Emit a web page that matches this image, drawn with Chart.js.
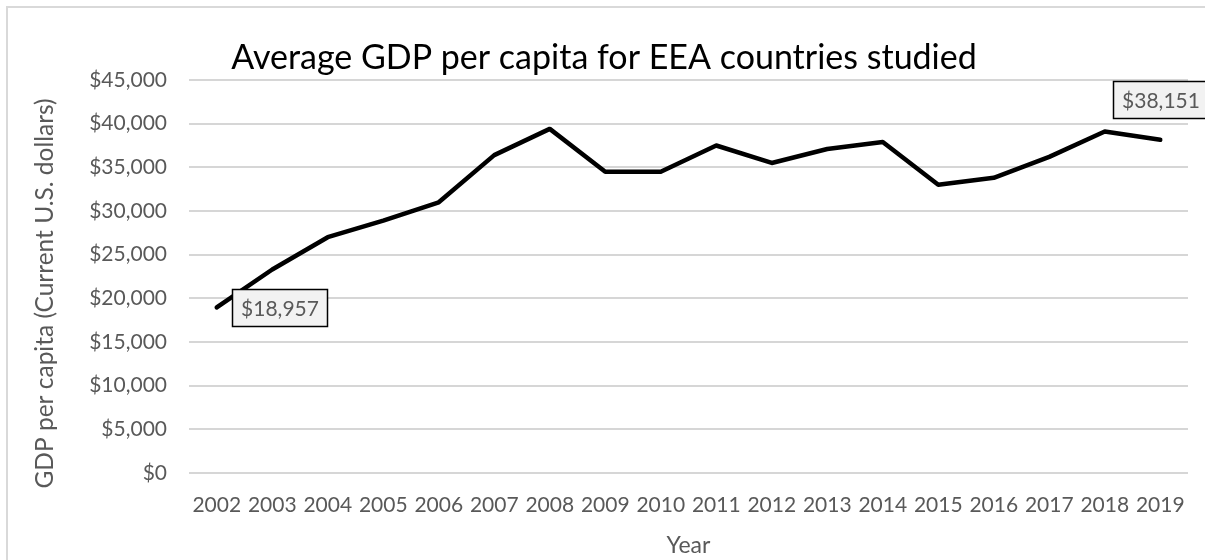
<!DOCTYPE html>
<html><head><meta charset="utf-8">
<script src="https://cdn.jsdelivr.net/npm/chart.js@4/dist/chart.umd.min.js"></script>
<style>
html,body{margin:0;padding:0;background:#fff;width:1205px;height:560px;overflow:hidden}
#frame{position:absolute;left:6px;top:6px;width:1400px;height:700px;border:2px solid #d9d9d9;box-sizing:border-box}
#wrap{position:absolute;left:0;top:0;width:1205px;height:560px}
</style></head><body>
<div id="frame"></div>
<div id="wrap"><canvas id="c" width="1205" height="560"></canvas></div>
<script>
// ---- data ----
const years = ['2002','2003','2004','2005','2006','2007','2008','2009','2010','2011','2012','2013','2014','2015','2016','2017','2018','2019'];
const gdpPerCapita = [18957, 23300, 27000, 28900, 31000, 36400, 39400, 34500, 34500, 37500, 35500, 37100, 37900, 33000, 33800, 36200, 39100, 38151];
const yMin = 0, yMax = 45000, yStep = 5000;
const labelledYears = ['2002', '2019'];
const chartTitle = 'Average GDP per capita for EEA countries studied';
const yAxisTitle = 'GDP per capita (Current U.S. dollars)';
const xAxisTitle = 'Year';

// ---- styling ----
const FONT = 'Lato, "Open Sans", sans-serif';
const GREY = '#595959';
const money = v => '$' + Math.round(v).toLocaleString('en-US');

const labelPlugin = {
  id: 'pointLabels',
  afterDatasetsDraw(chart) {
    const {ctx, scales: {x, y}} = chart;
    ctx.save();
    ctx.font = '21px ' + FONT;
    labelledYears.forEach(yr => {
      const i = years.indexOf(yr);
      const px = x.getPixelForValue(i), py = y.getPixelForValue(gdpPerCapita[i]);
      const text = money(gdpPerCapita[i]);
      const w = Math.round(ctx.measureText(text).width + 17), h = 37;
      let bx, by;
      if (i === 0) { bx = px + 15; by = py - h / 2; }
      else { bx = px - w / 2; by = py - 22 - h; }
      bx = Math.round(bx) + 0.5; by = Math.round(by) + 0.5;
      ctx.fillStyle = '#f2f2f2';
      ctx.fillRect(bx, by, w, h);
      ctx.strokeStyle = '#000';
      ctx.lineWidth = 1.5;
      ctx.strokeRect(bx, by, w, h);
      ctx.fillStyle = GREY;
      ctx.textAlign = 'center';
      ctx.textBaseline = 'middle';
      ctx.fillText(text, bx + w / 2, by + h / 2 + 1);
    });
    ctx.restore();
  }
};

// vertical axis title (drawn slightly below the plot centre, as in the reference)
const yTitlePlugin = {
  id: 'yTitle',
  afterDraw(chart) {
    const {ctx} = chart;
    const ys = chart.scales.y;
    ctx.save();
    ctx.translate(ys.left + 25, (ys.top + ys.bottom) / 2 + 17);
    ctx.rotate(-Math.PI / 2);
    ctx.font = '24.5px ' + FONT;
    ctx.fillStyle = GREY;
    ctx.textAlign = 'center';
    ctx.textBaseline = 'middle';
    ctx.fillText(yAxisTitle, 0, 0);
    ctx.restore();
  }
};

new Chart(document.getElementById('c'), {
  type: 'line',
  data: {
    labels: years,
    datasets: [{
      data: gdpPerCapita,
      borderColor: '#000',
      borderWidth: 4.5,
      pointRadius: 0,
      tension: 0,
      fill: false,
      borderCapStyle: 'round',
      borderJoinStyle: 'round'
    }]
  },
  options: {
    responsive: false,
    animation: false,
    devicePixelRatio: 1,
    layout: {padding: {left: 20, right: 17, top: 0, bottom: 0}},
    plugins: {
      legend: {display: false},
      tooltip: {enabled: false},
      title: {
        display: true, text: chartTitle, color: '#000',
        font: {family: FONT, size: 34, weight: 'normal'},
        padding: {top: 38, bottom: 1.2}
      }
    },
    scales: {
      x: {
        offset: true,
        grid: {display: false},
        border: {display: false},
        ticks: {color: GREY, font: {family: FONT, size: 21}, padding: 12, maxRotation: 0, autoSkip: false},
        title: {display: true, text: xAxisTitle, color: GREY, font: {family: FONT, size: 23}, padding: {top: 0, bottom: 1}},
        afterFit: s => { s.height = 87; }
      },
      y: {
        min: yMin, max: yMax,
        ticks: {stepSize: yStep, color: GREY, font: {family: FONT, size: 21}, padding: 22, callback: v => money(v)},
        grid: {color: '#d6d6d6', lineWidth: 2, drawTicks: false},
        border: {display: false},
        title: {display: false},
        afterFit: s => { s.width = 169; }
      }
    }
  },
  plugins: [labelPlugin, yTitlePlugin]
});
</script>
</body></html>
